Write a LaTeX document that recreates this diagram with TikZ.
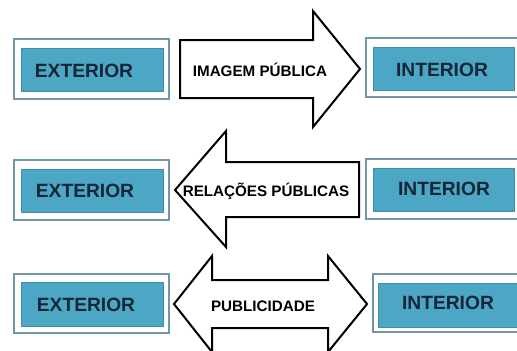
\documentclass[tikz,border=0pt]{standalone}
\usepackage{fontspec}
\setmainfont{Liberation Sans}
\usetikzlibrary{fit}
\definecolor{boxteal}{RGB}{75,167,196}
\definecolor{boxrim}{RGB}{112,152,164}
\definecolor{boxtext}{RGB}{22,38,56}
\begin{document}
\begin{tikzpicture}[x=0.5pt,y=-0.5pt,
        outer/.style={rectangle, draw=boxrim, line width=0.75pt, fill=white, inner sep=0pt},
        inner/.style={rectangle, fill=boxteal, draw=boxteal!85!black, line width=0.25pt, inner sep=0pt},
        place/.style={font=\fontsize{9.6}{11}\selectfont\bfseries, text=boxtext, inner sep=0pt},
        flow/.style={draw=black, line width=1pt, fill=white, line join=miter},
        flowtext/.style={font=\fontsize{7.6}{9}\selectfont\bfseries, inner sep=0pt}
    ]
    \useasboundingbox (0,0) rectangle (517,350);
    % exterior boxes
    \node[outer, fit={(14,39) (169,99)}] (extA) {};
    \node[inner, fit={(21,48) (163,91)}] (extAin) {};
    \node[place] (extAtxt) at (84,71) {EXTERIOR};
    \node[outer, fit={(14,160) (169,220)}] (extB) {};
    \node[inner, fit={(21,169) (163,212)}] (extBin) {};
    \node[place] (extBtxt) at (85,191) {EXTERIOR};
    \node[outer, fit={(14,274) (169,333)}] (extC) {};
    \node[inner, fit={(21,282) (163,326)}] (extCin) {};
    \node[place] (extCtxt) at (86,305) {EXTERIOR};
    % interior boxes
    \node[outer, fit={(366,38) (522,97)}] (intA) {};
    \node[inner, fit={(373,47) (514,90)}] (intAin) {};
    \node[place] (intAtxt) at (442,70) {INTERIOR};
    \node[outer, fit={(366,159) (522,219)}] (intB) {};
    \node[inner, fit={(373,168) (514,211)}] (intBin) {};
    \node[place] (intBtxt) at (444,189) {INTERIOR};
    \node[outer, fit={(373,274) (522,332)}] (intC) {};
    \node[inner, fit={(378,283) (522,327)}] (intCin) {};
    \node[place] (intCtxt) at (448,303) {INTERIOR};
    % block arrows
    \draw[flow] (180,40) -- (313,40) -- (313,11) -- (360,69) -- (313,127)
        -- (313,98) -- (180,98) -- cycle;
    \node[flowtext] (imagem) at (260,70) {IMAGEM PÚBLICA};
    \draw[flow] (359,162) -- (226,162) -- (226,131) -- (175,190) -- (226,247)
        -- (226,217) -- (359,217) -- cycle;
    \node[flowtext] (relacoes) at (266,191) {RELAÇÕES PÚBLICAS};
    \draw[flow] (174,304) -- (212,256) -- (212,280) -- (328,280) -- (328,256)
        -- (367,304) -- (328,352) -- (328,328) -- (212,328) -- (212,352) -- cycle;
    \node[flowtext] (publicidade) at (263,306) {PUBLICIDADE};
\end{tikzpicture}
\end{document}
